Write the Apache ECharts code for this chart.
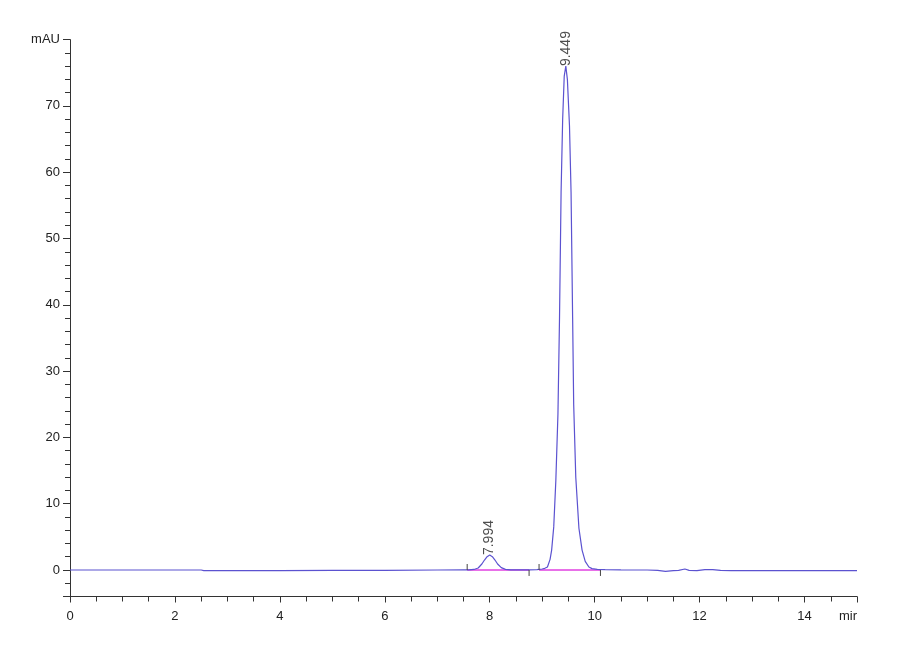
<!DOCTYPE html>
<html>
<head>
<meta charset="utf-8">
<script src="https://cdn.jsdelivr.net/npm/echarts@6/dist/echarts.min.js"></script>
<style>html,body{margin:0;padding:0;background:#fff}#c{width:900px;height:660px}</style>
</head>
<body>
<div id="c"></div>
<script>
// Chromatogram signal: [time (min), absorbance (mAU)]
const signal = [
  [0, 0], [1, 0], [2, 0], [2.5, 0], [2.55, -0.1], [3, -0.1], [4, -0.1], [5, -0.05], [6, -0.05],
  [7, 0], [7.5, 0.02], [7.6, 0.02], [7.7, 0.08], [7.78, 0.3], [7.85, 0.9], [7.9, 1.5], [7.95, 2.0],
  [8.0, 2.25], [8.05, 2.0], [8.1, 1.5], [8.15, 0.9], [8.22, 0.35], [8.3, 0.1], [8.4, 0.03],
  [8.5, 0.02], [8.75, 0.03], [8.9, 0.05], [9.0, 0.15], [9.05, 0.25], [9.1, 0.45], [9.15, 1.6],
  [9.18, 3.0], [9.22, 6.5], [9.26, 13.5], [9.3, 23.5], [9.33, 38], [9.36, 57], [9.39, 68],
  [9.42, 74.5], [9.45, 76], [9.48, 74], [9.52, 67], [9.55, 57], [9.58, 38], [9.6, 25],
  [9.64, 14], [9.7, 6.3], [9.76, 3.0], [9.82, 1.3], [9.89, 0.45], [9.95, 0.2], [10.05, 0.08],
  [10.2, 0.05], [10.5, 0.02], [11, 0], [11.2, -0.05], [11.35, -0.2], [11.5, -0.1], [11.6, -0.05],
  [11.72, 0.15], [11.8, -0.05], [11.95, -0.1], [12.1, 0.05], [12.25, 0.05], [12.4, -0.05],
  [12.6, -0.1], [13, -0.1], [14, -0.1], [15, -0.1]
];
// Integration baselines: [start, end] times
const baselines = [[7.57, 8.75], [8.94, 10.11]];
// Integration markers: [time, direction] (+1 above, -1 below baseline)
const markers = [[7.57, 1], [8.75, -1], [8.94, 1], [10.11, -1]];
// Peak retention times and apex heights
const peakTimes = [7.994, 9.449];
const peakHeights = [2.25, 76];
const peakLabels = ['7.994', '9.449'];
// Axis settings
const xTickLabels = {0: '0', 2: '2', 4: '4', 6: '6', 8: '8', 10: '10', 12: '12', 14: '14', 15: 'mir'};
const yTopLabel = 'mAU';

const blue = '#5b52d0';
const magenta = '#e040e0';
const axisColor = '#333';
const font = '"Liberation Sans Narrow", "Liberation Sans", Arial, sans-serif';

const series = [];
series.push({
  type: 'line', data: signal, showSymbol: false, symbol: 'none',
  lineStyle: {color: blue, width: 1.2}, z: 3, animation: false
});
baselines.forEach(b => {
  series.push({
    type: 'line', data: [[b[0], 0], [b[1], 0]], symbol: 'none',
    lineStyle: {color: magenta, width: 1.5}, z: 2, animation: false
  });
});
markers.forEach(m => {
  series.push({
    type: 'line', data: [[m[0], 0], [m[0], m[1] * 0.9]], symbol: 'none',
    lineStyle: {color: '#444', width: 1}, z: 4, animation: false
  });
});
series.push({
  type: 'scatter', symbolSize: 0, z: 5, animation: false,
  data: peakTimes.map((t, i) => ({value: [t, peakHeights[i]], name: peakLabels[i]})),
  label: {
    show: true, position: 'top', distance: 0, rotate: 90,
    align: 'left', verticalAlign: 'middle',
    formatter: p => p.name, fontSize: 14, color: '#222',
    fontFamily: '"Liberation Sans", Arial, sans-serif'
  }
});

const chart = echarts.init(document.getElementById('c'), null, {renderer: 'canvas'});
chart.setOption({
  animation: false,
  backgroundColor: '#fff',
  grid: {left: 70, right: 43, top: 39.6, bottom: 63.5, containLabel: false},
  xAxis: {
    type: 'value', min: 0, max: 15, interval: 2,
    axisLine: {show: true, onZero: false, lineStyle: {color: axisColor, width: 1}},
    axisTick: {show: true, length: 6, lineStyle: {color: axisColor}},
    minorTick: {show: true, splitNumber: 4, length: 5, lineStyle: {color: axisColor}},
    splitLine: {show: false},
    axisLabel: {
      color: '#222', fontSize: 13, fontFamily: font, margin: 13,
      showMaxLabel: true, alignMaxLabel: 'right',
      formatter: v => (xTickLabels[v] !== undefined ? xTickLabels[v] : '')
    }
  },
  yAxis: {
    type: 'value', min: -4, max: 80, splitNumber: 8,
    axisLine: {show: true, onZero: false, lineStyle: {color: axisColor, width: 1}},
    axisTick: {show: true, length: 7, lineStyle: {color: axisColor}},
    minorTick: {show: true, splitNumber: 5, length: 5, lineStyle: {color: axisColor}},
    splitLine: {show: false},
    axisLabel: {
      color: '#222', fontSize: 13, fontFamily: font, margin: 10,
      showMaxLabel: true,
      formatter: v => (v === 80 ? yTopLabel : (v % 10 === 0 ? String(v) : ''))
    }
  },
  series: series
});
</script>
</body>
</html>
